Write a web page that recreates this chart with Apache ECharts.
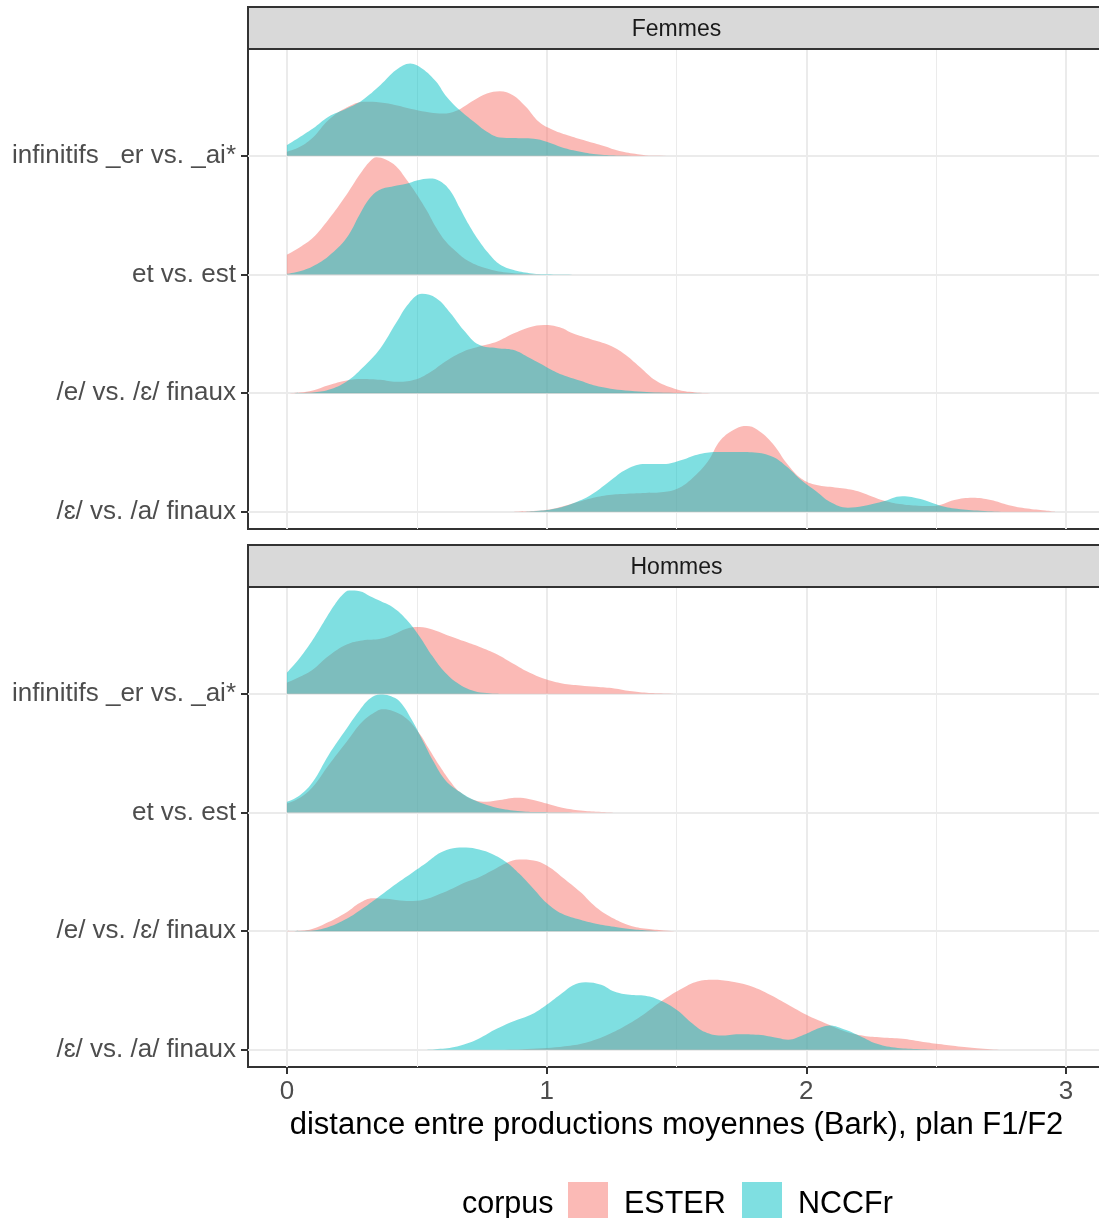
<!DOCTYPE html>
<html>
<head>
<meta charset="utf-8">
<script src="https://cdn.jsdelivr.net/npm/echarts@6/dist/echarts.min.js"></script>
<style>
  html, body { margin: 0; padding: 0; background: #fff; }
  #chart { width: 1099px; height: 1218px; }
</style>
</head>
<body>
<div id="chart"></div>
<script>
// Rows from bottom (index 0) to top (index 3)
const categories = ['/ɛ/ vs. /a/ finaux', '/e/ vs. /ɛ/ finaux', 'et vs. est', 'infinitifs _er vs. _ai*'];
const panels = ['Femmes', 'Hommes'];
const corpora = ['ESTER', 'NCCFr'];
const xTicks = [0, 1, 2, 3];
const xMinorTicks = [0.5, 1.5, 2.5];
const xTitle = 'distance entre productions moyennes (Bark), plan F1/F2';
const legendTitle = 'corpus';

// Density ridges: [distance, height in row units]
// Femmes
const fInfEster = [[0,0.034],[0.05,0.076],[0.1,0.154],[0.16,0.301],[0.23,0.407],[0.3,0.455],[0.36,0.449],[0.42,0.427],[0.49,0.390],[0.55,0.365],[0.6,0.356],[0.65,0.377],[0.72,0.469],[0.77,0.525],[0.82,0.545],[0.87,0.511],[0.92,0.413],[0.97,0.286],[1.025,0.217],[1.09,0.166],[1.15,0.126],[1.22,0.082],[1.28,0.040],[1.35,0.014],[1.41,0.003],[1.6,0],[2.96,0]];
const fInfNccfr = [[0,0.090],[0.1,0.230],[0.16,0.329],[0.23,0.398],[0.29,0.469],[0.36,0.596],[0.42,0.722],[0.475,0.778],[0.52,0.735],[0.575,0.623],[0.61,0.511],[0.665,0.385],[0.72,0.286],[0.77,0.202],[0.82,0.154],[0.87,0.149],[0.95,0.143],[1.0,0.118],[1.06,0.070],[1.13,0.034],[1.2,0.011],[1.28,0.003],[1.45,0],[2.96,0]];
const fEtEster = [[0,0.168],[0.05,0.230],[0.1,0.309],[0.16,0.463],[0.23,0.674],[0.28,0.842],[0.32,0.955],[0.345,0.988],[0.38,0.969],[0.42,0.912],[0.46,0.800],[0.5,0.674],[0.54,0.533],[0.575,0.393],[0.61,0.281],[0.65,0.196],[0.7,0.112],[0.77,0.051],[0.845,0.017],[0.92,0.006],[1.0,0],[2.96,0]];
const fEtNccfr = [[0,0.006],[0.05,0.028],[0.1,0.070],[0.16,0.154],[0.23,0.309],[0.28,0.505],[0.32,0.646],[0.36,0.716],[0.41,0.744],[0.46,0.764],[0.5,0.792],[0.55,0.809],[0.59,0.786],[0.63,0.702],[0.665,0.562],[0.7,0.421],[0.74,0.281],[0.78,0.168],[0.82,0.084],[0.87,0.040],[0.935,0.011],[1.0,0.003],[1.1,0],[2.96,0]];
const fEEster = [[0,0],[0.05,0.006],[0.1,0.023],[0.16,0.067],[0.23,0.107],[0.29,0.120],[0.36,0.112],[0.42,0.095],[0.49,0.112],[0.55,0.174],[0.61,0.267],[0.68,0.351],[0.74,0.393],[0.81,0.436],[0.87,0.500],[0.935,0.556],[0.99,0.575],[1.05,0.556],[1.1,0.505],[1.17,0.455],[1.23,0.413],[1.295,0.337],[1.36,0.219],[1.42,0.107],[1.49,0.040],[1.55,0.011],[1.63,0],[2.96,0]];
const fENccfr = [[0,0],[0.1,0.006],[0.16,0.028],[0.23,0.099],[0.29,0.211],[0.36,0.379],[0.42,0.590],[0.47,0.758],[0.52,0.837],[0.575,0.800],[0.63,0.674],[0.68,0.533],[0.74,0.407],[0.81,0.379],[0.87,0.365],[0.935,0.295],[1.0,0.219],[1.06,0.154],[1.13,0.104],[1.2,0.056],[1.32,0.019],[1.45,0.003],[1.6,0],[2.96,0]];
const fEpsEster = [[0,0],[0.82,0],[0.89,0.003],[0.96,0.008],[1.03,0.028],[1.1,0.070],[1.17,0.112],[1.24,0.141],[1.31,0.152],[1.38,0.158],[1.45,0.166],[1.505,0.196],[1.56,0.281],[1.62,0.421],[1.67,0.604],[1.73,0.702],[1.77,0.722],[1.81,0.693],[1.87,0.575],[1.925,0.407],[1.98,0.281],[2.04,0.225],[2.11,0.205],[2.18,0.183],[2.25,0.132],[2.3,0.093],[2.36,0.065],[2.43,0.051],[2.49,0.048],[2.57,0.099],[2.64,0.118],[2.71,0.099],[2.78,0.056],[2.85,0.028],[2.92,0.011],[2.96,0.003]];
const fEpsNccfr = [[0,0],[0.89,0],[0.96,0.006],[1.03,0.025],[1.1,0.070],[1.17,0.141],[1.24,0.253],[1.31,0.360],[1.38,0.402],[1.45,0.402],[1.52,0.436],[1.59,0.486],[1.66,0.503],[1.73,0.503],[1.8,0.500],[1.87,0.463],[1.925,0.379],[1.98,0.267],[2.04,0.168],[2.09,0.084],[2.16,0.034],[2.22,0.048],[2.29,0.084],[2.37,0.132],[2.44,0.107],[2.51,0.056],[2.58,0.025],[2.67,0.008],[2.78,0],[2.96,0]];
// Hommes
const hInfEster = [[0,0.093],[0.05,0.143],[0.1,0.205],[0.16,0.318],[0.23,0.415],[0.29,0.449],[0.36,0.463],[0.41,0.500],[0.46,0.548],[0.51,0.562],[0.56,0.542],[0.61,0.500],[0.68,0.444],[0.74,0.396],[0.81,0.331],[0.87,0.255],[0.935,0.177],[1.0,0.120],[1.06,0.087],[1.13,0.070],[1.19,0.059],[1.26,0.045],[1.32,0.023],[1.385,0.008],[1.45,0.003],[1.6,0],[2.75,0]];
const hInfNccfr = [[0,0.177],[0.05,0.303],[0.1,0.457],[0.14,0.598],[0.18,0.739],[0.215,0.837],[0.24,0.870],[0.28,0.865],[0.32,0.823],[0.36,0.781],[0.41,0.725],[0.46,0.626],[0.51,0.486],[0.56,0.318],[0.61,0.177],[0.665,0.078],[0.72,0.023],[0.77,0.006],[0.85,0],[2.75,0]];
const hEtEster = [[0,0.076],[0.05,0.124],[0.1,0.217],[0.16,0.398],[0.23,0.596],[0.29,0.764],[0.345,0.853],[0.37,0.870],[0.41,0.853],[0.46,0.792],[0.51,0.666],[0.55,0.525],[0.59,0.385],[0.63,0.259],[0.665,0.174],[0.72,0.104],[0.77,0.090],[0.82,0.104],[0.885,0.124],[0.935,0.112],[1.0,0.076],[1.06,0.040],[1.13,0.017],[1.2,0.006],[1.28,0],[2.75,0]];
const hEtNccfr = [[0,0.090],[0.05,0.146],[0.1,0.259],[0.16,0.483],[0.23,0.708],[0.28,0.862],[0.32,0.960],[0.36,0.994],[0.395,0.983],[0.435,0.933],[0.485,0.764],[0.525,0.596],[0.565,0.427],[0.61,0.272],[0.665,0.174],[0.72,0.104],[0.77,0.062],[0.82,0.034],[0.9,0.011],[0.975,0.003],[1.1,0],[2.75,0]];
const hEEster = [[0,0],[0.05,0.003],[0.1,0.019],[0.16,0.076],[0.23,0.160],[0.28,0.238],[0.33,0.278],[0.38,0.272],[0.435,0.259],[0.485,0.253],[0.54,0.272],[0.59,0.314],[0.64,0.362],[0.69,0.413],[0.74,0.455],[0.79,0.511],[0.845,0.575],[0.895,0.604],[0.95,0.596],[1.0,0.553],[1.06,0.455],[1.13,0.329],[1.19,0.202],[1.26,0.104],[1.32,0.048],[1.385,0.019],[1.45,0.006],[1.51,0],[2.75,0]];
const hENccfr = [[0,0],[0.1,0.006],[0.16,0.034],[0.23,0.104],[0.29,0.188],[0.36,0.301],[0.42,0.398],[0.485,0.497],[0.54,0.581],[0.59,0.660],[0.64,0.699],[0.69,0.705],[0.74,0.688],[0.79,0.651],[0.845,0.581],[0.895,0.483],[0.95,0.356],[1.0,0.238],[1.06,0.146],[1.13,0.095],[1.19,0.062],[1.26,0.036],[1.32,0.017],[1.385,0.006],[1.45,0],[2.75,0]];
const hEpsEster = [[0,0],[0.8,0],[0.945,0.008],[1.09,0.034],[1.16,0.065],[1.235,0.126],[1.31,0.211],[1.38,0.309],[1.45,0.421],[1.525,0.520],[1.58,0.575],[1.64,0.590],[1.71,0.575],[1.79,0.533],[1.86,0.463],[1.93,0.379],[2.0,0.295],[2.08,0.217],[2.15,0.154],[2.22,0.118],[2.29,0.104],[2.37,0.093],[2.44,0.070],[2.51,0.048],[2.585,0.028],[2.67,0.011],[2.75,0]];
const hEpsNccfr = [[0,0],[0.51,0],[0.58,0.006],[0.655,0.028],[0.73,0.084],[0.8,0.168],[0.87,0.238],[0.945,0.301],[1.0,0.379],[1.06,0.478],[1.1,0.542],[1.15,0.570],[1.21,0.548],[1.26,0.491],[1.32,0.463],[1.38,0.455],[1.44,0.413],[1.5,0.337],[1.555,0.233],[1.61,0.149],[1.67,0.120],[1.74,0.132],[1.815,0.126],[1.89,0.099],[1.93,0.084],[1.99,0.126],[2.05,0.183],[2.09,0.205],[2.15,0.168],[2.21,0.112],[2.265,0.056],[2.34,0.019],[2.425,0.006],[2.54,0],[2.75,0]];

// panel -> row (bottom to top) -> [ESTER, NCCFr]
const ridges = [
  [[fEpsEster, fEpsNccfr], [fEEster, fENccfr], [fEtEster, fEtNccfr], [fInfEster, fInfNccfr]],
  [[hEpsEster, hEpsNccfr], [hEEster, hENccfr], [hEtEster, hEtNccfr], [hInfEster, hInfNccfr]]
];

const FONT = "'Liberation Sans', Arial, Helvetica, sans-serif";
const fills = ['rgba(248,118,109,0.5)', 'rgba(0,191,196,0.5)'];
const X_MIN = -0.15, X_MAX = 3.15, Y_MIN = -0.145, Y_MAX = 3.9;

// Layout of the two facet panels
const panelLeft = 248, panelWidth = 857, panelHeight = 480;
const panelTops = [49, 587];
const stripHeight = 42;

const grids = panelTops.map(top => ({
  left: panelLeft, top: top, width: panelWidth, height: panelHeight,
  show: true, borderColor: '#333333', borderWidth: 2, backgroundColor: '#ffffff',
  containLabel: false, outerBoundsMode: 'none'
}));

const xAxes = [];
const yAxes = [];
panels.forEach((p, pi) => {
  const isBottom = pi === panels.length - 1;
  xAxes.push({
    gridIndex: pi, type: 'value', min: X_MIN, max: X_MAX, position: 'bottom',
    axisLine: { show: false, onZero: false },
    axisTick: isBottom
      ? { show: true, length: 7, customValues: xTicks, lineStyle: { color: '#333333', width: 2 } }
      : { show: false, customValues: xTicks },
    axisLabel: { show: isBottom, customValues: xTicks, fontSize: 26, color: '#4D4D4D', margin: 12, fontFamily: FONT },
    splitLine: { show: true, lineStyle: { color: '#EBEBEB', width: 2 } },
    name: isBottom ? xTitle : '', nameLocation: 'middle', nameGap: 43,
    nameTextStyle: { fontSize: 31, color: '#000000', fontFamily: FONT }
  });
  xAxes.push({
    gridIndex: pi, type: 'value', min: X_MIN, max: X_MAX, position: 'top',
    axisLine: { show: false, onZero: false },
    axisTick: { show: false, customValues: xMinorTicks },
    axisLabel: { show: false, customValues: xMinorTicks },
    splitLine: { show: true, lineStyle: { color: '#EBEBEB', width: 1 } }
  });
  yAxes.push({
    gridIndex: pi, type: 'value', min: Y_MIN, max: Y_MAX, position: 'left',
    axisLine: { show: false, onZero: false },
    axisTick: { show: true, length: 7, customValues: [0, 1, 2, 3], lineStyle: { color: '#333333', width: 2 } },
    axisLabel: {
      customValues: [0, 1, 2, 3], formatter: v => categories[Math.round(v)],
      fontSize: 26, color: '#4D4D4D', margin: 12, fontFamily: FONT
    },
    splitLine: { show: true, lineStyle: { color: '#EBEBEB', width: 2 } }
  });
});

// Upper rows are drawn first; within a row NCCFr sits over ESTER
const series = [];
panels.forEach((p, pi) => {
  for (let r = categories.length - 1; r >= 0; r--) {
    corpora.forEach((c, ci) => {
      series.push({
        type: 'line', name: c, xAxisIndex: pi * 2, yAxisIndex: pi,
        data: ridges[pi][r][ci].map(([x, h]) => [x, r + h]),
        smooth: 0.4,
        symbol: 'none', showSymbol: false,
        itemStyle: { color: fills[ci] },
        lineStyle: { width: 0 },
        areaStyle: { color: fills[ci], opacity: 1, origin: r },
        silent: true
      });
    });
  }
});

const graphics = [];
panels.forEach((p, pi) => {
  const top = panelTops[pi] - stripHeight;
  graphics.push({
    type: 'rect', z: 10,
    shape: { x: panelLeft, y: top, width: panelWidth, height: stripHeight },
    style: { fill: '#D9D9D9', stroke: '#333333', lineWidth: 2 }
  });
  graphics.push({
    type: 'text', z: 11, x: panelLeft + panelWidth / 2, y: top + stripHeight / 2 + 2,
    style: { text: p, fontSize: 23, fill: '#1A1A1A', align: 'center', verticalAlign: 'middle', fontFamily: FONT }
  });
});

// Legend: title, then a filled key and a label per corpus
const legendY = 1205;
const legendKeysX = [568, 742];
graphics.push({
  type: 'text', z: 11, x: 462, y: legendY,
  style: { text: legendTitle, fontSize: 30.5, fill: '#000000', align: 'left', verticalAlign: 'middle', fontFamily: FONT }
});
corpora.forEach((c, ci) => {
  graphics.push({
    type: 'rect', z: 11,
    shape: { x: legendKeysX[ci], y: 1182, width: 40, height: 40 },
    style: { fill: fills[ci] }
  });
  graphics.push({
    type: 'text', z: 11, x: legendKeysX[ci] + 56, y: legendY,
    style: { text: c, fontSize: 30.5, fill: '#000000', align: 'left', verticalAlign: 'middle', fontFamily: FONT }
  });
});

const chart = echarts.init(document.getElementById('chart'), null, { renderer: 'canvas' });
chart.setOption({
  animation: false,
  backgroundColor: '#ffffff',
  grid: grids,
  xAxis: xAxes,
  yAxis: yAxes,
  graphic: graphics,
  series: series
});
</script>
</body>
</html>
